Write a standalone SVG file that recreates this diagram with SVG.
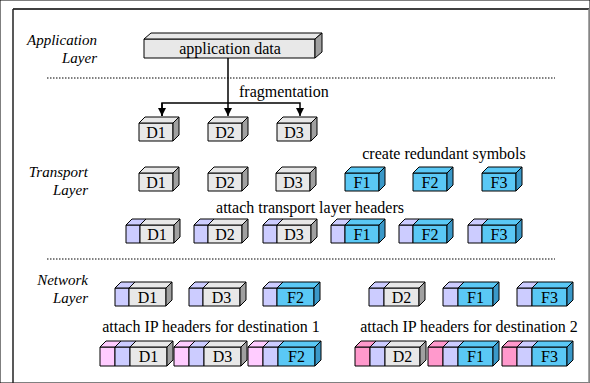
<svg xmlns="http://www.w3.org/2000/svg" width="590" height="383" viewBox="0 0 590 383" font-family="'Liberation Serif', 'DejaVu Serif', serif">
<defs>
<style>
rect,polygon{stroke:#000;stroke-width:1;stroke-linejoin:round}
.g{fill:#e8e8e8}.gs{fill:#a0a0a0}
.f{fill:#5ac8f5}.fs{fill:#3a98c8}
.h{fill:#ccccff}.p1{fill:#ffccff}.p2{fill:#ff99cc}
text{font-family:'Liberation Serif', serif;font-size:16px;fill:#000}
.c{text-anchor:middle}
.lab{font-style:italic;font-size:15px;text-anchor:end}
.dot{stroke:#000;stroke-width:1;stroke-dasharray:1.5 1.5;fill:none}
.ln{stroke:#000;stroke-width:1.5;fill:none}
</style>
<marker id="ah" viewBox="0 0 8 8" refX="8" refY="4" markerWidth="8" markerHeight="8" markerUnits="userSpaceOnUse" orient="auto"><path d="M0,0 L8,4 L0,8 z" fill="#000"/></marker>
</defs>
<rect width="590" height="383" fill="#fff" stroke="none"/>
<g id="frame">
<line x1="13" y1="9" x2="589" y2="9" stroke="#000" stroke-width="1.5"/>
<line x1="13" y1="9" x2="13" y2="383" stroke="#222" stroke-width="1.5"/>
<line x1="589" y1="9" x2="589" y2="383" stroke="#888" stroke-width="1.5"/>
<line class="dot" x1="47" y1="78" x2="555" y2="78"/>
<line class="dot" x1="47" y1="259" x2="555" y2="259"/>
</g>
<g id="labels">
<text class="lab" x="97" y="45">Application</text>
<text class="lab" x="97" y="63">Layer</text>
<text class="lab" x="88" y="177">Transport</text>
<text class="lab" x="88" y="195">Layer</text>
<text class="lab" x="88" y="285">Network</text>
<text class="lab" x="88" y="303">Layer</text>
<text x="239" y="97">fragmentation</text>
<text class="c" x="444" y="159">create redundant symbols</text>
<text class="c" x="310" y="213">attach transport layer headers</text>
<text class="c" x="211" y="332">attach IP headers for destination 1</text>
<text class="c" x="469" y="332">attach IP headers for destination 2</text>
</g>
<g id="connectors">
<line class="ln" x1="228" y1="58" x2="228" y2="116" marker-end="url(#ah)"/>
<polyline class="ln" points="162,116 162,103 300,103 300,116" marker-end="url(#ah)"/>
<line class="ln" x1="162" y1="103" x2="162" y2="116" marker-end="url(#ah)"/>
</g>
<g id="appdata">
<rect class="g" x="144" y="39" width="171" height="19"/>
<polygon class="g" points="144,39 151,33 322,33 315,39"/>
<polygon class="gs" points="315,39 322,33 322,52 315,58"/>
<text class="c" x="230" y="54">application data</text>
</g>
<g id="frag">
<g id="r1-d1"><rect class="g" x="139" y="123" width="34" height="18"/><polygon class="g" points="139,123 145,117 179,117 173,123"/><polygon class="gs" points="173,123 179,117 179,135 173,141"/><text class="c" x="156" y="138">D1</text></g>
<g id="r1-d2"><rect class="g" x="208" y="123" width="34" height="18"/><polygon class="g" points="208,123 214,117 248,117 242,123"/><polygon class="gs" points="242,123 248,117 248,135 242,141"/><text class="c" x="225" y="138">D2</text></g>
<g id="r1-d3"><rect class="g" x="277" y="123" width="34" height="18"/><polygon class="g" points="277,123 283,117 317,117 311,123"/><polygon class="gs" points="311,123 317,117 317,135 311,141"/><text class="c" x="294" y="138">D3</text></g>
</g>
<g id="symbols">
<g id="r2-d1"><rect class="g" x="139" y="173" width="34" height="18"/><polygon class="g" points="139,173 145,167 179,167 173,173"/><polygon class="gs" points="173,173 179,167 179,185 173,191"/><text class="c" x="156" y="188">D1</text></g>
<g id="r2-d2"><rect class="g" x="208" y="173" width="34" height="18"/><polygon class="g" points="208,173 214,167 248,167 242,173"/><polygon class="gs" points="242,173 248,167 248,185 242,191"/><text class="c" x="225" y="188">D2</text></g>
<g id="r2-d3"><rect class="g" x="276" y="173" width="34" height="18"/><polygon class="g" points="276,173 282,167 316,167 310,173"/><polygon class="gs" points="310,173 316,167 316,185 310,191"/><text class="c" x="293" y="188">D3</text></g>
<g id="r2-f1"><rect class="f" x="345" y="173" width="34" height="18"/><polygon class="f" points="345,173 351,167 385,167 379,173"/><polygon class="fs" points="379,173 385,167 385,185 379,191"/><text class="c" x="362" y="188">F1</text></g>
<g id="r2-f2"><rect class="f" x="413" y="173" width="34" height="18"/><polygon class="f" points="413,173 419,167 453,167 447,173"/><polygon class="fs" points="447,173 453,167 453,185 447,191"/><text class="c" x="430" y="188">F2</text></g>
<g id="r2-f3"><rect class="f" x="482" y="173" width="34" height="18"/><polygon class="f" points="482,173 488,167 522,167 516,173"/><polygon class="fs" points="516,173 522,167 522,185 516,191"/><text class="c" x="499" y="188">F3</text></g>
</g>
<g id="transport">
<g id="r3-d1"><rect class="h" x="126" y="225" width="14" height="18"/><polygon class="h" points="126,225 132,219 146,219 140,225"/><rect class="g" x="140" y="225" width="34" height="18"/><polygon class="g" points="140,225 146,219 180,219 174,225"/><polygon class="gs" points="174,225 180,219 180,237 174,243"/><text class="c" x="157" y="240">D1</text></g>
<g id="r3-d2"><rect class="h" x="194" y="225" width="14" height="18"/><polygon class="h" points="194,225 200,219 214,219 208,225"/><rect class="g" x="208" y="225" width="34" height="18"/><polygon class="g" points="208,225 214,219 248,219 242,225"/><polygon class="gs" points="242,225 248,219 248,237 242,243"/><text class="c" x="225" y="240">D2</text></g>
<g id="r3-d3"><rect class="h" x="263" y="225" width="14" height="18"/><polygon class="h" points="263,225 269,219 283,219 277,225"/><rect class="g" x="277" y="225" width="34" height="18"/><polygon class="g" points="277,225 283,219 317,219 311,225"/><polygon class="gs" points="311,225 317,219 317,237 311,243"/><text class="c" x="294" y="240">D3</text></g>
<g id="r3-f1"><rect class="h" x="331" y="225" width="14" height="18"/><polygon class="h" points="331,225 337,219 351,219 345,225"/><rect class="f" x="345" y="225" width="34" height="18"/><polygon class="f" points="345,225 351,219 385,219 379,225"/><polygon class="fs" points="379,225 385,219 385,237 379,243"/><text class="c" x="362" y="240">F1</text></g>
<g id="r3-f2"><rect class="h" x="399" y="225" width="14" height="18"/><polygon class="h" points="399,225 405,219 419,219 413,225"/><rect class="f" x="413" y="225" width="34" height="18"/><polygon class="f" points="413,225 419,219 453,219 447,225"/><polygon class="fs" points="447,225 453,219 453,237 447,243"/><text class="c" x="430" y="240">F2</text></g>
<g id="r3-f3"><rect class="h" x="468" y="225" width="14" height="18"/><polygon class="h" points="468,225 474,219 488,219 482,225"/><rect class="f" x="482" y="225" width="34" height="18"/><polygon class="f" points="482,225 488,219 522,219 516,225"/><polygon class="fs" points="516,225 522,219 522,237 516,243"/><text class="c" x="499" y="240">F3</text></g>
</g>
<g id="network">
<g id="n1-d1"><rect class="h" x="115" y="288" width="14" height="18"/><polygon class="h" points="115,288 121,282 135,282 129,288"/><rect class="g" x="129" y="288" width="37" height="18"/><polygon class="g" points="129,288 135,282 172,282 166,288"/><polygon class="gs" points="166,288 172,282 172,300 166,306"/><text class="c" x="147.5" y="303">D1</text></g>
<g id="n1-d3"><rect class="h" x="189" y="288" width="14" height="18"/><polygon class="h" points="189,288 195,282 209,282 203,288"/><rect class="g" x="203" y="288" width="37" height="18"/><polygon class="g" points="203,288 209,282 246,282 240,288"/><polygon class="gs" points="240,288 246,282 246,300 240,306"/><text class="c" x="221.5" y="303">D3</text></g>
<g id="n1-f2"><rect class="h" x="263" y="288" width="14" height="18"/><polygon class="h" points="263,288 269,282 283,282 277,288"/><rect class="f" x="277" y="288" width="37" height="18"/><polygon class="f" points="277,288 283,282 320,282 314,288"/><polygon class="fs" points="314,288 320,282 320,300 314,306"/><text class="c" x="295.5" y="303">F2</text></g>
<g id="n1-d2"><rect class="h" x="369" y="288" width="15" height="18"/><polygon class="h" points="369,288 375,282 390,282 384,288"/><rect class="g" x="384" y="288" width="35" height="18"/><polygon class="g" points="384,288 390,282 425,282 419,288"/><polygon class="gs" points="419,288 425,282 425,300 419,306"/><text class="c" x="401.5" y="303">D2</text></g>
<g id="n1-f1"><rect class="h" x="443" y="288" width="15" height="18"/><polygon class="h" points="443,288 449,282 464,282 458,288"/><rect class="f" x="458" y="288" width="35" height="18"/><polygon class="f" points="458,288 464,282 499,282 493,288"/><polygon class="fs" points="493,288 499,282 499,300 493,306"/><text class="c" x="475.5" y="303">F1</text></g>
<g id="n1-f3"><rect class="h" x="517" y="288" width="15" height="18"/><polygon class="h" points="517,288 523,282 538,282 532,288"/><rect class="f" x="532" y="288" width="35" height="18"/><polygon class="f" points="532,288 538,282 573,282 567,288"/><polygon class="fs" points="567,288 573,282 573,300 567,306"/><text class="c" x="549.5" y="303">F3</text></g>
</g>
<g id="ip">
<g id="n2-d1"><rect class="p1" x="100" y="347" width="15" height="19"/><polygon class="p1" points="100,347 106,341 121,341 115,347"/><rect class="h" x="115" y="347" width="15" height="19"/><polygon class="h" points="115,347 121,341 136,341 130,347"/><rect class="g" x="130" y="347" width="37" height="19"/><polygon class="g" points="130,347 136,341 173,341 167,347"/><polygon class="gs" points="167,347 173,341 173,360 167,366"/><text class="c" x="148.5" y="362">D1</text></g>
<g id="n2-d3"><rect class="p1" x="174" y="347" width="15" height="19"/><polygon class="p1" points="174,347 180,341 195,341 189,347"/><rect class="h" x="189" y="347" width="15" height="19"/><polygon class="h" points="189,347 195,341 210,341 204,347"/><rect class="g" x="204" y="347" width="37" height="19"/><polygon class="g" points="204,347 210,341 247,341 241,347"/><polygon class="gs" points="241,347 247,341 247,360 241,366"/><text class="c" x="222.5" y="362">D3</text></g>
<g id="n2-f2"><rect class="p1" x="248" y="347" width="15" height="19"/><polygon class="p1" points="248,347 254,341 269,341 263,347"/><rect class="h" x="263" y="347" width="15" height="19"/><polygon class="h" points="263,347 269,341 284,341 278,347"/><rect class="f" x="278" y="347" width="37" height="19"/><polygon class="f" points="278,347 284,341 321,341 315,347"/><polygon class="fs" points="315,347 321,341 321,360 315,366"/><text class="c" x="296.5" y="362">F2</text></g>
<g id="n2-d2"><rect class="p2" x="355" y="347" width="15" height="19"/><polygon class="p2" points="355,347 361,341 376,341 370,347"/><rect class="h" x="370" y="347" width="15" height="19"/><polygon class="h" points="370,347 376,341 391,341 385,347"/><rect class="g" x="385" y="347" width="35" height="19"/><polygon class="g" points="385,347 391,341 426,341 420,347"/><polygon class="gs" points="420,347 426,341 426,360 420,366"/><text class="c" x="402.5" y="362">D2</text></g>
<g id="n2-f1"><rect class="p2" x="428" y="347" width="15" height="19"/><polygon class="p2" points="428,347 434,341 449,341 443,347"/><rect class="h" x="443" y="347" width="15" height="19"/><polygon class="h" points="443,347 449,341 464,341 458,347"/><rect class="f" x="458" y="347" width="35" height="19"/><polygon class="f" points="458,347 464,341 499,341 493,347"/><polygon class="fs" points="493,347 499,341 499,360 493,366"/><text class="c" x="475.5" y="362">F1</text></g>
<g id="n2-f3"><rect class="p2" x="502" y="347" width="15" height="19"/><polygon class="p2" points="502,347 508,341 523,341 517,347"/><rect class="h" x="517" y="347" width="15" height="19"/><polygon class="h" points="517,347 523,341 538,341 532,347"/><rect class="f" x="532" y="347" width="35" height="19"/><polygon class="f" points="532,347 538,341 573,341 567,347"/><polygon class="fs" points="567,347 573,341 573,360 567,366"/><text class="c" x="549.5" y="362">F3</text></g>
</g>
</svg>
